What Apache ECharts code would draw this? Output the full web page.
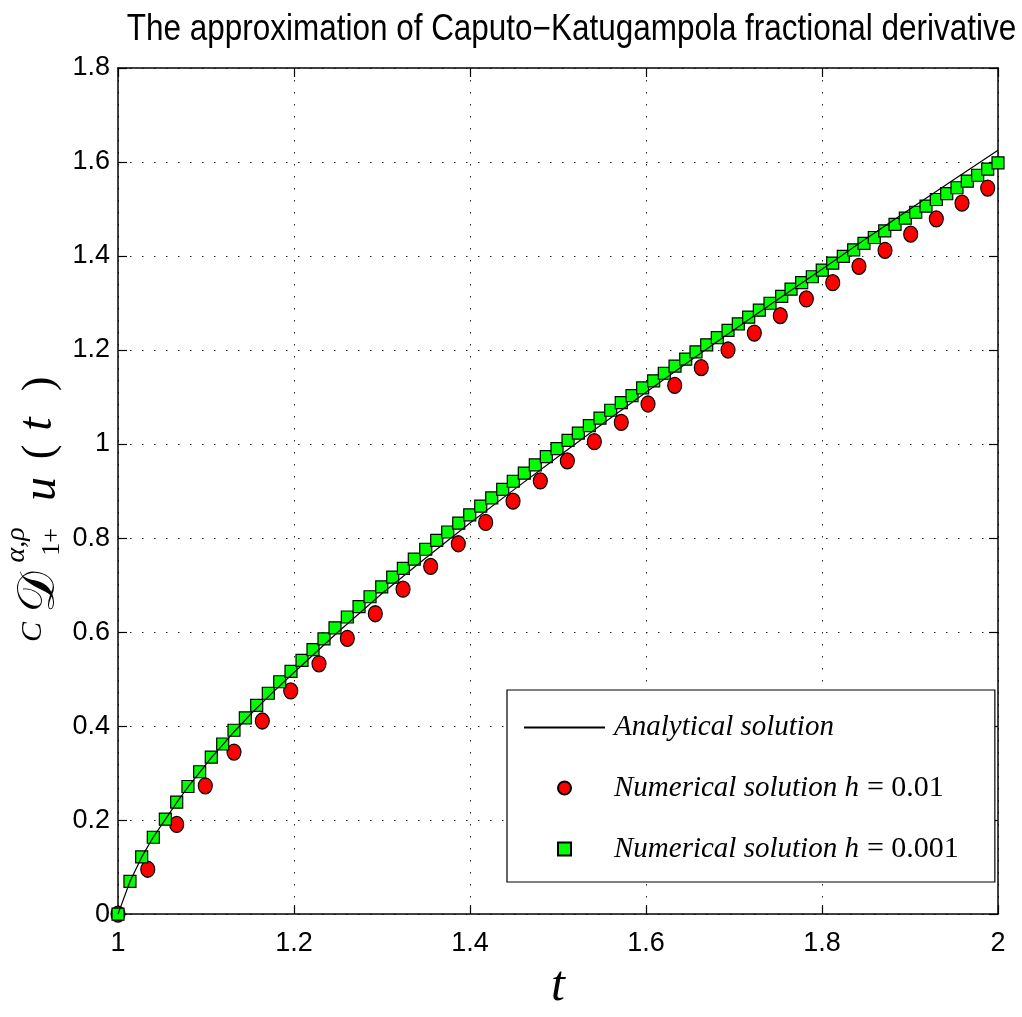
<!DOCTYPE html>
<html>
<head>
<meta charset="utf-8">
<script src="https://cdn.jsdelivr.net/npm/echarts@6/dist/echarts.min.js"></script>
<style>
html,body{margin:0;padding:0;background:#fff;}
#chart{width:1022px;height:1017px;}
</style>
</head>
<body>
<div id="chart"></div>
<script>
// Analytical solution
const lineT = [1, 1.0136, 1.027, 1.040, 1.054, 1.067, 1.080, 1.093, 1.106, 1.119, 1.132, 1.15, 1.175, 1.2, 1.25, 1.3, 1.35, 1.4, 1.45, 1.5, 1.55, 1.6, 1.65, 1.7, 1.75, 1.8, 1.85, 1.9, 1.95, 2.0];
const lineY = [0, 0.0695, 0.1217, 0.1635, 0.2019, 0.238, 0.2715, 0.302, 0.333, 0.360, 0.388, 0.424, 0.470, 0.514, 0.600, 0.682, 0.758, 0.832, 0.903, 0.973, 1.042, 1.110, 1.177, 1.243, 1.308, 1.372, 1.437, 1.500, 1.563, 1.625];

// Numerical solution h = 0.01 (red circles)
const redT = [1.0, 1.0338, 1.0667, 1.0992, 1.1318, 1.1640, 1.1963, 1.2284, 1.2606, 1.2924, 1.3239, 1.3553, 1.3867, 1.4178, 1.4489, 1.4799, 1.5106, 1.5413, 1.5719, 1.6023, 1.6326, 1.6628, 1.6932, 1.7231, 1.7526, 1.7822, 1.8122, 1.8420, 1.8716, 1.9008, 1.9299, 1.9591, 1.9883];
const redY = [0, 0.0954, 0.1907, 0.2729, 0.3446, 0.4108, 0.4747, 0.5325, 0.5868, 0.6390, 0.6912, 0.7398, 0.7879, 0.8332, 0.8785, 0.9215, 0.9641, 1.0050, 1.0462, 1.0852, 1.1249, 1.1625, 1.2001, 1.2362, 1.2732, 1.3087, 1.3433, 1.3782, 1.4122, 1.4465, 1.4791, 1.5125, 1.5446];

// Numerical solution h = 0.001 (green squares)
const greenT = [1.0, 1.0136, 1.0269, 1.0401, 1.0538, 1.0667, 1.0795, 1.0928, 1.1060, 1.1190, 1.1318, 1.1447, 1.1576, 1.1708, 1.1838, 1.1966, 1.2091, 1.2216, 1.2341, 1.2466, 1.2606, 1.2739, 1.2864, 1.2997, 1.3122, 1.3243, 1.3367, 1.3497, 1.3622, 1.3747, 1.3872, 1.3997, 1.4122, 1.4247, 1.4372, 1.4492, 1.4617, 1.4742, 1.4867, 1.4989, 1.5114, 1.5231, 1.5356, 1.5477, 1.5599, 1.5719, 1.5841, 1.5962, 1.6087, 1.6208, 1.6330, 1.6451, 1.6568, 1.6690, 1.6810, 1.6932, 1.7049, 1.7167, 1.7288, 1.7409, 1.7542, 1.7648, 1.7769, 1.7890, 1.8003, 1.8122, 1.8242, 1.8360, 1.8477, 1.8594, 1.8713, 1.8830, 1.8947, 1.9065, 1.9182, 1.9299, 1.9417, 1.9534, 1.9651, 1.9769, 1.9883, 2.0];
const greenY = [0, 0.0695, 0.1217, 0.1635, 0.2019, 0.2381, 0.2715, 0.3028, 0.3341, 0.3619, 0.3911, 0.4176, 0.4442, 0.4698, 0.4943, 0.5164, 0.5398, 0.5628, 0.5857, 0.6091, 0.6321, 0.6542, 0.6751, 0.6960, 0.7169, 0.7357, 0.7553, 0.7762, 0.7950, 0.8129, 0.8317, 0.8493, 0.8681, 0.8854, 0.9036, 0.9209, 0.9382, 0.9558, 0.9731, 0.9904, 1.0080, 1.0232, 1.0393, 1.0552, 1.0719, 1.0880, 1.1032, 1.1193, 1.1345, 1.1506, 1.1658, 1.1805, 1.1959, 1.2111, 1.2264, 1.2419, 1.2556, 1.2702, 1.2848, 1.2995, 1.3141, 1.3295, 1.3433, 1.3559, 1.3699, 1.3851, 1.3991, 1.4131, 1.4269, 1.4394, 1.4534, 1.4674, 1.4805, 1.4931, 1.5062, 1.5202, 1.5327, 1.5452, 1.5592, 1.5718, 1.5849, 1.5981];

const seriesNames = ['Analytical solution', 'Numerical solution h = 0.01', 'Numerical solution h = 0.001'];
const titleText = 'The approximation of Caputo\u2212Katugampola fractional derivative';
const xName = 't';

const tickFont = '"Liberation Sans", Arial, sans-serif';
const mathFont = '"Liberation Serif", "DejaVu Serif", serif';

const zip = (a, b) => a.map((v, i) => [v, b[i]]);

const chart = echarts.init(document.getElementById('chart'), null, {renderer: 'canvas'});

const gridSplit = {show: true, lineStyle: {color: '#222', width: 1, type: [1.5, 10.5]}};
const axisLineStyle = {show: true, onZero: false, lineStyle: {color: '#000', width: 1.5}};
const tickStyle = {show: true, inside: true, length: 9, lineStyle: {color: '#000', width: 1.2}};

function ytext(str, x, y, size, italic, family) {
  return {
    type: 'text', x: x, y: y, rotation: Math.PI / 2, z: 10,
    style: {
      text: str,
      font: (italic ? 'italic ' : '') + size + 'px ' + (family || mathFont),
      fill: '#000',
      align: 'center', verticalAlign: 'middle',
      textAlign: 'center', textVerticalAlign: 'middle'
    }
  };
}

const option = {
  animation: false,
  backgroundColor: '#fff',
  grid: {left: 118, right: 24, top: 68, bottom: 87, containLabel: false},
  xAxis: [
    {
      type: 'value', min: 1, max: 2, interval: 0.2, position: 'bottom',
      name: xName, nameLocation: 'middle', nameGap: 47,
      nameTextStyle: {fontFamily: mathFont, fontStyle: 'italic', fontSize: 50, color: '#000'},
      axisLine: axisLineStyle, axisTick: tickStyle,
      axisLabel: {color: '#000', fontFamily: tickFont, fontSize: 27, margin: 16},
      splitLine: gridSplit
    },
    {
      type: 'value', min: 1, max: 2, interval: 0.2, position: 'top',
      axisLine: axisLineStyle, axisTick: tickStyle,
      axisLabel: {show: false}, splitLine: {show: false}
    }
  ],
  yAxis: [
    {
      type: 'value', min: 0, max: 1.8, interval: 0.2, position: 'left',
      axisLine: axisLineStyle, axisTick: tickStyle,
      axisLabel: {color: '#000', fontFamily: tickFont, fontSize: 27, margin: 8},
      splitLine: gridSplit
    },
    {
      type: 'value', min: 0, max: 1.8, interval: 0.2, position: 'right',
      axisLine: axisLineStyle, axisTick: tickStyle,
      axisLabel: {show: false}, splitLine: {show: false}
    }
  ],
  legend: {
    orient: 'vertical', left: 507, top: 690,
    padding: [23, 36, 18, 16], itemGap: 31,
    itemWidth: 81, itemHeight: 13,
    symbolKeepAspect: true,
    backgroundColor: '#fff', borderColor: '#000', borderWidth: 1.2, borderRadius: 0,
    data: [
      {name: seriesNames[0], itemStyle: {color: 'rgba(0,0,0,0)', borderColor: 'rgba(0,0,0,0)', borderWidth: 0}},
      {name: seriesNames[1]},
      {name: seriesNames[2], icon: 'path://M0 0H10V10H0Z'}
    ],
    formatter: function (name) {
      const parts = name.split(' = ');
      if (parts.length === 1) return '{i|' + name + '}';
      return '{i|' + parts[0] + '} {r|= ' + parts[1] + '}';
    },
    textStyle: {
      color: '#000', fontSize: 29,
      rich: {
        i: {fontFamily: mathFont, fontStyle: 'italic', fontSize: 29, color: '#000', padding: [0, 0, 0, 4]},
        r: {fontFamily: mathFont, fontStyle: 'normal', fontSize: 30, color: '#000'}
      }
    }
  },
  graphic: [
    {
      type: 'text', x: 571.5, y: 30, scaleX: 0.874, z: 10,
      style: {
        text: titleText,
        font: '36px ' + tickFont,
        fill: '#000',
        align: 'center', verticalAlign: 'middle',
        textAlign: 'center', textVerticalAlign: 'middle'
      }
    },
    ytext('C', 33, 632, 30, true),
    ytext('\uD835\uDC9F', 40, 592, 52, false, '"DejaVu Sans", serif'),
    ytext('\u03B1,\u03C1', 17, 545, 28, true),
    ytext('1+', 52, 542, 26, false),
    ytext('u', 42, 489, 48, true),
    ytext('(', 40, 452, 44, false),
    ytext('t', 38, 424, 48, true),
    ytext(')', 40, 384, 44, false)
  ],
  series: [
    {
      name: seriesNames[0], type: 'line', data: zip(lineT, lineY),
      xAxisIndex: 0, yAxisIndex: 0,
      symbol: 'none', showSymbol: false, smooth: false,
      lineStyle: {color: '#000', width: 1.2}, itemStyle: {color: '#000'}
    },
    {
      name: seriesNames[1], type: 'scatter', data: zip(redT, redY),
      xAxisIndex: 0, yAxisIndex: 0,
      symbol: 'circle', symbolSize: [14, 16],
      itemStyle: {color: '#ff0000', borderColor: '#000', borderWidth: 1.2, opacity: 1}
    },
    {
      name: seriesNames[2], type: 'scatter', data: zip(greenT, greenY),
      xAxisIndex: 0, yAxisIndex: 0,
      symbol: 'rect', symbolSize: [12, 12],
      itemStyle: {color: '#00ff00', borderColor: '#000', borderWidth: 1.2, opacity: 1}
    }
  ]
};

chart.setOption(option);
</script>
</body>
</html>
